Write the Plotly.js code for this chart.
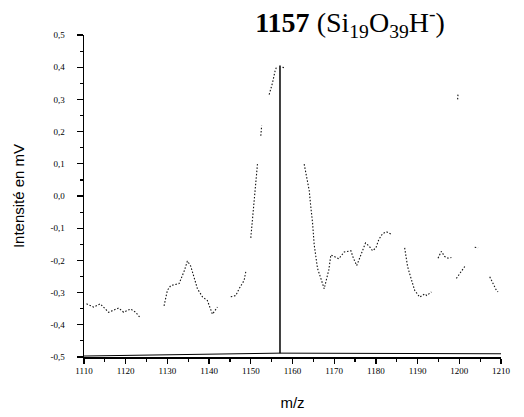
<!DOCTYPE html>
<html>
<head>
<meta charset="utf-8">
<script src="https://cdn.plot.ly/plotly-3.0.1.min.js"></script>
<style>html,body{margin:0;padding:0;background:#fff;}#chart{width:524px;height:417px;}</style>
</head>
<body>
<div id="chart"></div>
<script>
// m/z values of the recorded signal (null = gap in the trace)
const mz = [
  1110.6, 1112.3, 1113.9, 1115.9, 1118.3, 1119.5, 1121.2, 1122.4, 1123.4, null,
  1129.2, 1130.0, 1130.8, 1132.8, 1134.0, 1134.8, 1135.6, 1136.4, 1137.2, 1138.4, 1139.6, 1140.8, 1142.0, null,
  1145.2, 1146.4, 1147.2, 1148.4, 1148.8, null,
  1150.0, 1150.2, 1150.8, 1151.0, 1151.3, 1151.6, null,
  1152.4, 1152.6, null,
  1154.4, 1154.8, 1155.2, 1155.8, 1156.2, null,
  1157.6, 1158.1, null,
  1162.8, 1163.6, 1164.0, 1164.4, 1164.8, 1165.2, 1166.0, 1166.8, 1167.6, 1168.2, 1168.7, 1169.2, 1170.0, 1171.1,
  1172.4, 1174.0, 1174.6, 1175.4, 1176.4, 1177.5, 1178.4, 1179.2, 1180.0, 1180.7, 1181.6, 1182.5, 1183.7, null,
  1186.9, 1187.6, 1188.2, 1189.3, 1190.5, 1191.7, 1192.2, 1193.3, null,
  1194.9, 1195.7, 1196.5, 1197.3, 1198.1, null,
  1199.3, 1200.1, 1201.3, null,
  1203.7, 1204.5, null,
  1207.3, 1208.9, 1209.3, null,
  1199.6, 1199.7
];
// intensity in mV
const intensity = [
  -0.335, -0.345, -0.335, -0.361, -0.348, -0.361, -0.351, -0.361, -0.377, null,
  -0.341, -0.293, -0.278, -0.272, -0.234, -0.202, -0.218, -0.250, -0.288, -0.313, -0.325, -0.367, -0.345, null,
  -0.313, -0.309, -0.288, -0.262, -0.235, null,
  -0.130, -0.103, -0.013, 0.007, 0.058, 0.099, null,
  0.187, 0.218, null,
  0.315, 0.330, 0.351, 0.387, 0.402, null,
  0.400, 0.398, null,
  0.099, 0.048, 0.018, -0.035, -0.082, -0.151, -0.225, -0.256, -0.288, -0.256, -0.230, -0.183, -0.188, -0.195,
  -0.174, -0.170, -0.193, -0.216, -0.183, -0.146, -0.156, -0.170, -0.161, -0.135, -0.117, -0.111, -0.119, null,
  -0.161, -0.219, -0.246, -0.293, -0.314, -0.304, -0.309, -0.298, null,
  -0.193, -0.172, -0.188, -0.193, -0.191, null,
  -0.256, -0.241, -0.219, null,
  -0.159, -0.161, null,
  -0.251, -0.293, -0.298, null,
  0.300, 0.318
];
// attributed peak (stick) and its baseline
const peakMz = [1157, 1157];
const peakVal = [-0.488, 0.405];
const baseMz = [1110, 1157, 1210];
const baseVal = [-0.497, -0.488, -0.490];

const xTickVals = [1110, 1120, 1130, 1140, 1150, 1160, 1170, 1180, 1190, 1200, 1210];
const xTickText = ['1110', '1120', '1130', '1140', '1150', '1160', '1170', '1180', '1190', '1200', '1210'];
const yTickVals = [0.5, 0.4, 0.3, 0.2, 0.1, 0.0, -0.1, -0.2, -0.3, -0.4, -0.5];
const yTickText = ['0,5', '0,4', '0,3', '0,2', '0,1', '0,0', '-0,1', '-0,2', '-0,3', '-0,4', '-0,5'];

const traces = [
  {x: baseMz, y: baseVal, mode: 'lines', line: {color: '#000', width: 1}, hoverinfo: 'skip', showlegend: false},
  {x: mz, y: intensity, mode: 'lines', connectgaps: false,
   line: {color: '#111', width: 1.1, dash: '1.5px,1.8px'}, showlegend: false},
  {x: peakMz, y: peakVal, mode: 'lines', line: {color: '#000', width: 1.5}, showlegend: false}
];

const tickFont = {family: 'Liberation Serif', size: 9, color: '#000'};
const layout = {
  width: 524, height: 417,
  margin: {l: 84, r: 23, t: 35, b: 60},
  paper_bgcolor: '#fff', plot_bgcolor: '#fff',
  showlegend: false,
  title: {
    text: '<b>1157</b> (Si<sub>19</sub>O<sub>39</sub>H<sup>-</sup>)',
    font: {family: 'Liberation Serif', size: 28, color: '#000'},
    xref: 'container', x: 350 / 524, xanchor: 'center',
    yref: 'container', y: 1 - 22 / 417, yanchor: 'middle'
  },
  xaxis: {
    range: [1110, 1210], showgrid: false, zeroline: false,
    showline: true, linecolor: '#000', linewidth: 1.5,
    ticks: 'outside', ticklen: 5, tickwidth: 1.3, tickcolor: '#000',
    tickvals: xTickVals, ticktext: xTickText, tickfont: tickFont,
    minor: {dtick: 5, tick0: 1110, ticks: 'outside', ticklen: 3, tickwidth: 1.2, tickcolor: '#000', showgrid: false},
    title: {text: 'm/z', font: {family: 'Liberation Sans', size: 15, color: '#000'}, standoff: 22}
  },
  yaxis: {
    range: [-0.5, 0.5], showgrid: false, zeroline: false,
    showline: true, linecolor: '#000', linewidth: 1.5,
    ticks: 'outside', ticklen: 6, tickwidth: 1.3, tickcolor: '#000',
    ticklabelstandoff: 10,
    tickvals: yTickVals, ticktext: yTickText, tickfont: tickFont,
    minor: {dtick: 0.05, tick0: 0, ticks: 'outside', ticklen: 3, tickwidth: 1.2, tickcolor: '#000', showgrid: false},
    title: {text: 'Intensité en mV', font: {family: 'Liberation Sans', size: 15, color: '#000'}, standoff: 22}
  }
};

Plotly.newPlot('chart', traces, layout, {staticPlot: true, displayModeBar: false});
</script>
</body>
</html>
